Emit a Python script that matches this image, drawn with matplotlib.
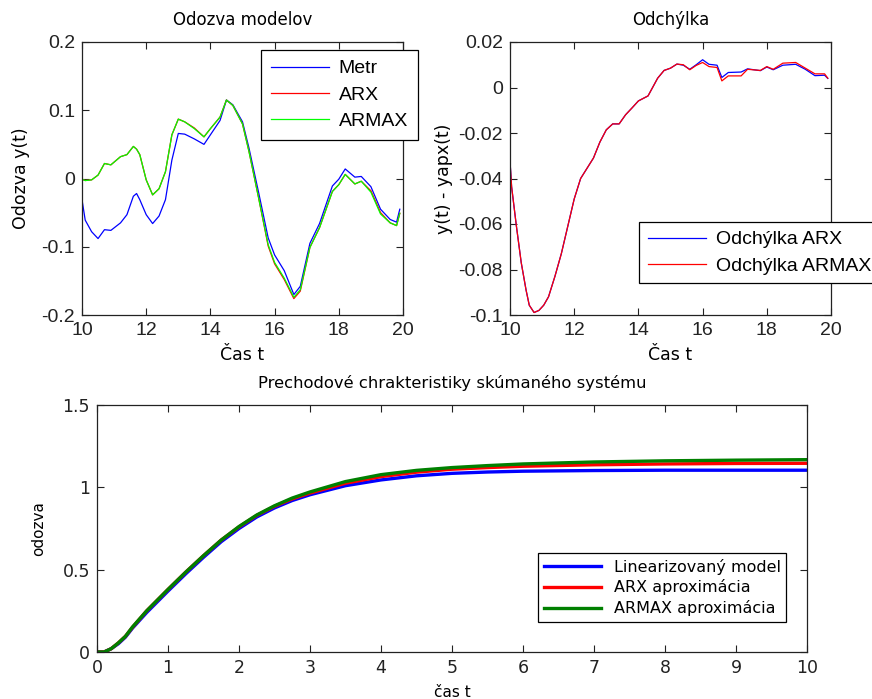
import matplotlib
matplotlib.use('Agg')
import matplotlib.pyplot as plt

# odozva modelov (cas 10..20)
t_model = [10.0, 10.1, 10.3, 10.5, 10.7, 10.9, 11.2, 11.4, 11.6, 11.7, 11.8, 12.0, 12.2, 12.4,
           12.6, 12.8, 13.0, 13.2, 13.5, 13.8, 14.0, 14.3, 14.5, 14.7, 15.0, 15.2, 15.5, 15.8,
           16.0, 16.3, 16.6, 16.8, 17.1, 17.4, 17.8, 18.0, 18.2, 18.5, 18.7, 19.0, 19.3, 19.6,
           19.8, 19.9]
metr = [-0.031, -0.061, -0.078, -0.088, -0.075, -0.076, -0.065, -0.053, -0.026, -0.022, -0.031,
        -0.053, -0.066, -0.055, -0.031, 0.027, 0.066, 0.065, 0.058, 0.050, 0.064, 0.085, 0.115,
        0.108, 0.083, 0.045, -0.020, -0.087, -0.112, -0.135, -0.170, -0.158, -0.095, -0.066,
        -0.011, -0.001, 0.014, 0.002, 0.003, -0.012, -0.045, -0.060, -0.064, -0.045]
arx = [-0.001, -0.003, -0.002, 0.005, 0.022, 0.020, 0.032, 0.035, 0.047, 0.043, 0.035, -0.002,
       -0.024, -0.015, 0.010, 0.064, 0.087, 0.083, 0.074, 0.061, 0.073, 0.090, 0.115, 0.107,
       0.080, 0.040, -0.028, -0.099, -0.125, -0.148, -0.176, -0.165, -0.101, -0.072, -0.019,
       -0.009, 0.006, -0.008, -0.004, -0.018, -0.050, -0.065, -0.069, -0.051]
armax = [-0.001, -0.003, -0.002, 0.005, 0.022, 0.020, 0.032, 0.035, 0.047, 0.043, 0.035, -0.002,
         -0.024, -0.015, 0.010, 0.064, 0.087, 0.083, 0.073, 0.061, 0.073, 0.090, 0.115, 0.107,
         0.080, 0.040, -0.028, -0.097, -0.123, -0.146, -0.174, -0.163, -0.101, -0.072, -0.019,
         -0.009, 0.006, -0.008, -0.004, -0.020, -0.052, -0.065, -0.069, -0.051]

# odchylka y(t) - yapx(t)
t_dev = [10.0, 10.05, 10.2, 10.35, 10.5, 10.6, 10.75, 10.9, 11.05, 11.2, 11.4, 11.6, 11.8, 12.0,
         12.2, 12.4, 12.6, 12.8, 13.0, 13.2, 13.4, 13.6, 13.8, 14.0, 14.3, 14.6, 14.8, 15.0,
         15.2, 15.4, 15.6, 15.8, 16.0, 16.2, 16.45, 16.6, 16.8, 17.2, 17.4, 17.8, 18.0, 18.2,
         18.5, 18.9, 19.2, 19.5, 19.8, 19.9]
dev_arx = [-0.0323, -0.0436, -0.061, -0.077, -0.089, -0.0957, -0.0989, -0.098, -0.0957, -0.092,
           -0.083, -0.073, -0.061, -0.049, -0.040, -0.0355, -0.031, -0.024, -0.0186, -0.016,
           -0.016, -0.012, -0.009, -0.0059, -0.0037, 0.0041, 0.0075, 0.0085, 0.0103, 0.0098,
           0.0080, 0.0100, 0.0122, 0.0102, 0.0098, 0.0044, 0.0066, 0.0068, 0.0082, 0.0074,
           0.0090, 0.0078, 0.0098, 0.0102, 0.0080, 0.0052, 0.0054, 0.0040]
dev_armax = [-0.0323, -0.0436, -0.061, -0.077, -0.089, -0.0957, -0.0989, -0.098, -0.0957, -0.092,
             -0.083, -0.073, -0.061, -0.049, -0.040, -0.0355, -0.031, -0.024, -0.0186, -0.016,
             -0.016, -0.012, -0.009, -0.0059, -0.0037, 0.0041, 0.0075, 0.0085, 0.0103, 0.0100,
             0.0078, 0.0097, 0.0110, 0.0092, 0.0088, 0.0029, 0.0051, 0.0051, 0.0080, 0.0075,
             0.0092, 0.0080, 0.0107, 0.0110, 0.0085, 0.0060, 0.0060, 0.0041]

# prechodove charakteristiky
t_step = [0, 0.1, 0.2, 0.3, 0.4, 0.5, 0.7, 1.0, 1.25, 1.5, 1.75, 2.0, 2.25, 2.5, 2.75, 3.0,
          3.5, 4.0, 4.5, 5.0, 5.5, 6.0, 7.0, 8.0, 9.0, 10.0]
step_lin = [0, 0, 0.02, 0.05, 0.09, 0.145, 0.24, 0.37, 0.475, 0.575, 0.67, 0.75, 0.82, 0.875,
            0.92, 0.955, 1.01, 1.045, 1.07, 1.085, 1.093, 1.098, 1.102, 1.104, 1.104, 1.104]
step_arx = [0, 0, 0.02, 0.055, 0.095, 0.15, 0.25, 0.38, 0.485, 0.585, 0.68, 0.76, 0.83, 0.885,
            0.93, 0.965, 1.025, 1.065, 1.092, 1.11, 1.12, 1.128, 1.137, 1.142, 1.145, 1.146]
step_armax = [0, 0, 0.02, 0.055, 0.095, 0.152, 0.25, 0.38, 0.485, 0.585, 0.68, 0.762, 0.832,
              0.888, 0.935, 0.972, 1.035, 1.077, 1.103, 1.12, 1.132, 1.142, 1.154, 1.161,
              1.165, 1.168]

plt.rcParams['font.family'] = 'DejaVu Sans'
tickfont = 'Liberation Sans'

W, H = 872.0, 699.0
def box(l, t, r, b):
    return [l / W, 1 - b / H, (r - l) / W, (b - t) / H]

def matlab_axes(ax, tsize, tfam):
    ax.tick_params(direction='in', top=True, right=True, length=5, width=0.8,
                   labelsize=tsize, pad=5, colors='#222222')
    for lab in ax.get_xticklabels() + ax.get_yticklabels():
        lab.set_family(tfam)
    for s in ax.spines.values():
        s.set_linewidth(0.9)
        s.set_color('#222222')

fig = plt.figure(figsize=(8.72, 6.99), dpi=100)

# --- odozva modelov
ax1 = fig.add_axes(box(82, 42, 403, 315))
ax1.plot(t_model, metr, color='#0000ff', lw=0.9, label='Metr')
ax1.plot(t_model, arx, color='#ff0000', lw=0.9, label='ARX')
ax1.plot(t_model, armax, color='#00ff00', lw=0.9, label='ARMAX')
ax1.set_xlim(10, 20)
ax1.set_ylim(-0.2, 0.2)
ax1.set_xticks([10, 12, 14, 16, 18, 20])
ax1.set_yticks([-0.2, -0.1, 0, 0.1, 0.2])
ax1.set_yticklabels(['-0.2', '-0.1', '0', '0.1', '0.2'])
matlab_axes(ax1, 14, tickfont)
ax1.set_title('Odozva modelov', fontsize=12, pad=12)
ax1.set_xlabel('Čas t', fontsize=12.5, labelpad=5)
ax1.set_ylabel('Odozva y(t)', fontsize=12.5, labelpad=8)
leg1 = ax1.legend(loc='upper left', bbox_to_anchor=(261 / W, 1 - 50 / H),
                  bbox_transform=fig.transFigure, fancybox=False, framealpha=1,
                  edgecolor='black', prop={'family': tickfont, 'size': 14},
                  handlelength=3.0, handletextpad=0.5, borderaxespad=0,
                  borderpad=0.5, labelspacing=0.45)
leg1.get_frame().set_linewidth(0.9)

# --- odchylka
ax2 = fig.add_axes(box(510, 42, 831, 315))
ax2.plot(t_dev, dev_arx, color='#0000ff', lw=0.9, label='Odchýlka ARX')
ax2.plot(t_dev, dev_armax, color='#ff0000', lw=0.9, label='Odchýlka ARMAX')
ax2.set_xlim(10, 20)
ax2.set_ylim(-0.1, 0.02)
ax2.set_xticks([10, 12, 14, 16, 18, 20])
ax2.set_yticks([-0.1, -0.08, -0.06, -0.04, -0.02, 0, 0.02])
ax2.set_yticklabels(['-0.1', '-0.08', '-0.06', '-0.04', '-0.02', '0', '0.02'])
matlab_axes(ax2, 14, tickfont)
ax2.set_title('Odchýlka', fontsize=12, pad=12)
ax2.set_xlabel('Čas t', fontsize=12.5, labelpad=5)
ax2.set_ylabel('y(t) - yapx(t)', fontsize=12.5, labelpad=4)
leg2 = ax2.legend(loc='upper left', bbox_to_anchor=(639 / W, 1 - 222 / H),
                  bbox_transform=fig.transFigure, fancybox=False, framealpha=1,
                  edgecolor='black', prop={'family': tickfont, 'size': 14},
                  handlelength=3.0, handletextpad=0.5, borderaxespad=0,
                  borderpad=0.45, labelspacing=0.45)
leg2.get_frame().set_linewidth(0.9)

# --- prechodove charakteristiky
ax3 = fig.add_axes(box(97, 405, 807, 652))
ax3.plot(t_step, step_lin, color='#0000ff', lw=2.4, label='Linearizovaný model')
ax3.plot(t_step, step_arx, color='#ff0000', lw=2.4, label='ARX aproximácia')
ax3.plot(t_step, step_armax, color='#008000', lw=2.4, label='ARMAX aproximácia')
ax3.set_xlim(0, 10)
ax3.set_ylim(0, 1.5)
ax3.set_xticks(range(0, 11))
ax3.set_yticks([0, 0.5, 1, 1.5])
ax3.set_yticklabels(['0', '0.5', '1', '1.5'])
matlab_axes(ax3, 12.5, 'DejaVu Sans')
ax3.set_title('Prechodové chrakteristiky skúmaného systému', fontsize=11.8, pad=12)
ax3.set_xlabel('čas t', fontsize=11, labelpad=6)
ax3.set_ylabel('odozva', fontsize=11, labelpad=12)
leg3 = ax3.legend(loc='upper left', bbox_to_anchor=(538 / W, 1 - 553 / H),
                  bbox_transform=fig.transFigure, fancybox=False, framealpha=1,
                  edgecolor='black', prop={'size': 11.5},
                  handlelength=3.6, borderaxespad=0, borderpad=0.35, labelspacing=0.3)
leg3.get_frame().set_linewidth(0.9)

fig.savefig('out.png', dpi=100)
